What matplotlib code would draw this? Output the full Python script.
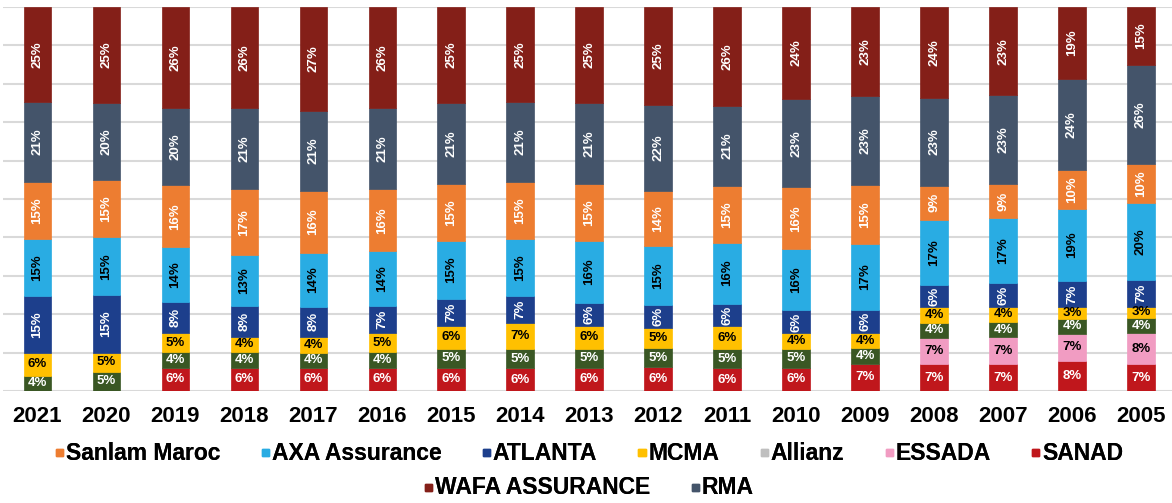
import matplotlib
matplotlib.use("Agg")
import matplotlib.pyplot as plt
import numpy as np
from matplotlib.legend_handler import HandlerPatch
from matplotlib.patches import Patch, Rectangle

years = ["2021", "2020", "2019", "2018", "2017", "2016", "2015", "2014", "2013",
         "2012", "2011", "2010", "2009", "2008", "2007", "2006", "2005"]

# market shares (%) as labelled, stacked from the bottom up
sanad = [0, 0, 6, 6, 6, 6, 6, 6, 6, 6, 6, 6, 7, 7, 7, 8, 7]
essada = [0, 0, 0, 0, 0, 0, 0, 0, 0, 0, 0, 0, 0, 7, 7, 7, 8]
allianz = [4, 5, 4, 4, 4, 4, 5, 5, 5, 5, 5, 5, 4, 4, 4, 4, 4]
mcma = [6, 5, 5, 4, 4, 5, 6, 7, 6, 5, 6, 4, 4, 4, 4, 3, 3]
atlanta = [15, 15, 8, 8, 8, 7, 7, 7, 6, 6, 6, 6, 6, 6, 6, 7, 7]
axa = [15, 15, 14, 13, 14, 14, 15, 15, 16, 15, 16, 16, 17, 17, 17, 19, 20]
sanlam = [15, 15, 16, 17, 16, 16, 15, 15, 15, 14, 15, 16, 15, 9, 9, 10, 10]
rma = [21, 20, 20, 21, 21, 21, 21, 21, 21, 22, 21, 23, 23, 23, 23, 24, 26]
wafa = [25, 25, 26, 26, 27, 26, 25, 25, 25, 25, 26, 24, 23, 24, 23, 19, 15]

series = [
    ("SANAD", sanad, "#C0171C", "white", 0),
    ("ESSADA", essada, "#F19CC2", "black", 0),
    ("Allianz", allianz, "#3A5724", "white", 0),
    ("MCMA", mcma, "#FFC000", "black", 0),
    ("ATLANTA", atlanta, "#1D3F8C", "white", 90),
    ("AXA Assurance", axa, "#29ACE3", "black", 90),
    ("Sanlam Maroc", sanlam, "#ED7D31", "white", 90),
    ("RMA", rma, "#44546A", "white", 90),
    ("WAFA ASSURANCE", wafa, "#841F18", "white", 90),
]

legend_colors = {"Allianz": "#BFBFBF"}
legend_rows = [
    ["Sanlam Maroc", "AXA Assurance", "ATLANTA", "MCMA", "Allianz", "ESSADA", "SANAD"],
    ["WAFA ASSURANCE", "RMA"],
]


def small_square(legend, orig_handle, xdescent, ydescent, width, height, fontsize):
    # little square sitting near the text baseline, like the Excel legend keys
    return Rectangle((-xdescent, -ydescent + 0.5), 5.2, 5.2)


plt.rcParams["font.family"] = ["Liberation Sans", "DejaVu Sans"]

fig = plt.figure(figsize=(11.72, 5.03), dpi=100)
ax = fig.add_axes([3 / 1172, 112 / 503, 1169 / 1172, 384 / 503])

x = np.arange(len(years))
totals = np.sum([s[1] for s in series], axis=0)
bottom = np.zeros(len(years))
for name, vals, color, txt, rot in series:
    vals = np.array(vals, dtype=float)
    heights = vals / totals * 100
    ax.bar(x, heights, 0.4, bottom=bottom, color=color, edgecolor=color,
           linewidth=0.5, zorder=3)
    for xi, v, h, b in zip(x, vals, heights, bottom):
        if v > 0:
            ax.text(xi, b + h / 2, f"{int(v)}%", ha="center", va="center",
                    rotation=rot, color=txt, fontsize=9.5, fontweight="bold",
                    zorder=4)
    bottom += heights

ax.set_xlim(-0.5, 16.45)
ax.set_ylim(0, 100)
ax.set_yticks(np.arange(0, 101, 10))
ax.set_yticklabels([])
ax.tick_params(axis="y", length=0)
ax.tick_params(axis="x", length=0, pad=11)
ax.set_xticks(x)
ax.set_xticklabels(years, fontsize=16, fontweight="bold")
ax.grid(True, axis="y", color="#D9D9D9", linewidth=1.5, zorder=0)
for spine in ax.spines.values():
    spine.set_visible(False)

colors = {s[0]: s[2] for s in series}
for row, ypos in zip(legend_rows, [453 / 503, 488 / 503]):
    handles = [Patch(color=legend_colors.get(n, colors[n]), label=n) for n in row]
    leg = fig.legend(handles=handles, loc="center", ncol=len(row),
                     bbox_to_anchor=(0.503, 1 - ypos),
                     frameon=False, handlelength=0.32, handleheight=0.32,
                     handletextpad=0.12, columnspacing=1.8,
                     handler_map={Patch: HandlerPatch(patch_func=small_square)},
                     prop={"size": 16.5, "weight": "bold"})
    fig.add_artist(leg)

fig.savefig("out.png", dpi=100)
